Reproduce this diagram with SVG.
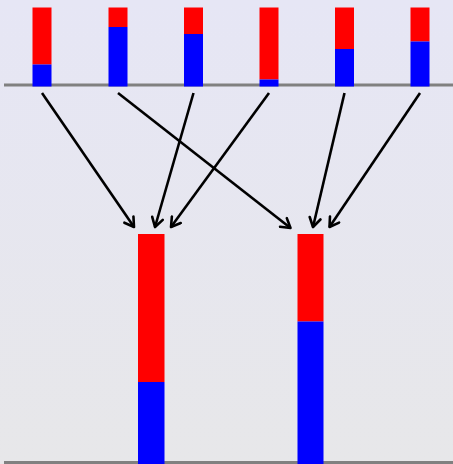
<svg xmlns="http://www.w3.org/2000/svg" width="453" height="464" viewBox="0 0 453 464">
  <defs>
    <linearGradient id="bg" x1="0" y1="0" x2="0" y2="1">
      <stop offset="0" stop-color="#e6e6f5"/>
      <stop offset="1" stop-color="#e7e7e9"/>
    </linearGradient>
    <marker id="head" viewBox="-11 -7 13 14" refX="0" refY="0" markerWidth="13" markerHeight="14" markerUnits="userSpaceOnUse" orient="auto">
      <path d="M-9,-5.5 L0,0 L-9,5.5" fill="none" stroke="#000" stroke-width="2.6" stroke-linecap="round" stroke-linejoin="round"/>
    </marker>
    <style>
      .red { fill: #ff0000; }
      .blue { fill: #0000ff; }
      .base { stroke: #808080; stroke-width: 3; }
      .edge { stroke: #000; stroke-width: 2.6; fill: none; marker-end: url(#head); }
    </style>
  </defs>

  <rect x="0" y="0" width="453" height="464" fill="url(#bg)"/>

  <!-- baselines -->
  <line class="base" x1="4" y1="85" x2="453" y2="85"/>
  <line class="base" x1="4" y1="462.5" x2="453" y2="462.5"/>

  <!-- top bars -->
  <g id="top1"><rect class="red" x="32.5" y="7.5" width="19" height="57"/><rect class="blue" x="32.5" y="64.5" width="19" height="22"/></g>
  <g id="top2"><rect class="red" x="108.5" y="7.5" width="19" height="19.5"/><rect class="blue" x="108.5" y="27" width="19" height="59.5"/></g>
  <g id="top3"><rect class="red" x="184" y="7.5" width="19" height="26.5"/><rect class="blue" x="184" y="34" width="19" height="52.5"/></g>
  <g id="top4"><rect class="red" x="259.5" y="7.5" width="19" height="72"/><rect class="blue" x="259.5" y="79.5" width="19" height="7"/></g>
  <g id="top5"><rect class="red" x="335" y="7.5" width="19" height="41.5"/><rect class="blue" x="335" y="49" width="19" height="37.5"/></g>
  <g id="top6"><rect class="red" x="410.5" y="7.5" width="19" height="34"/><rect class="blue" x="410.5" y="41.5" width="19" height="45"/></g>

  <!-- bottom bars -->
  <g id="bottom1"><rect class="red" x="138" y="234" width="26.5" height="148"/><rect class="blue" x="138" y="382" width="26.5" height="82"/></g>
  <g id="bottom2"><rect class="red" x="297.5" y="234" width="26" height="87.5"/><rect class="blue" x="297.5" y="321.5" width="26" height="142.5"/></g>

  <!-- connectors -->
  <g id="edges">
    <line class="edge" x1="42" y1="93" x2="134" y2="227"/>
    <line class="edge" x1="118" y1="93" x2="290.5" y2="228"/>
    <line class="edge" x1="193.5" y1="93" x2="155" y2="227"/>
    <line class="edge" x1="269" y1="93" x2="171" y2="227"/>
    <line class="edge" x1="344.5" y1="93" x2="313" y2="227"/>
    <line class="edge" x1="420" y1="93" x2="329.5" y2="227"/>
  </g>
</svg>
